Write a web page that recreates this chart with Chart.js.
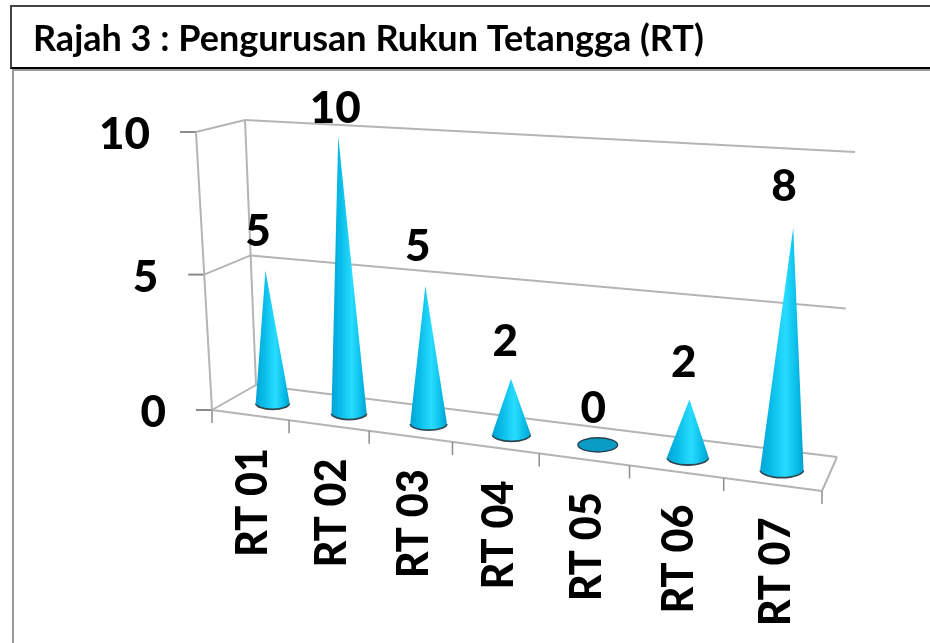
<!DOCTYPE html>
<html>
<head>
<meta charset="utf-8">
<script src="https://cdn.jsdelivr.net/npm/chart.js@4"></script>
<style>
  html, body { margin: 0; background: #fff; overflow: hidden; }
  #titleBox { position: absolute; left: 10px; top: 5px; width: 930px; height: 60px; border: 2px solid #444; border-bottom: 2px solid #000; }
  #panel { position: absolute; left: 12px; top: 69px; width: 930px; height: 600px; border: 2px solid #999; }
  #wrap { position: absolute; left: 0; top: 0; width: 930px; height: 643px; }
</style>
</head>
<body>
<div id="titleBox"></div>
<div id="panel"></div>
<div id="wrap"><canvas id="myChart" width="930" height="643"></canvas></div>
<script>
var categories = ['RT 01', 'RT 02', 'RT 03', 'RT 04', 'RT 05', 'RT 06', 'RT 07'];
var values = [5, 10, 5, 2, 0, 2, 8];
var titleText = 'Rajah 3 : Pengurusan Rukun Tetangga (RT)';

// corners of the sheared 3d box on screen: bottom left, bottom right, top right, top left
var conePlane = [[235.5, 397.5], [830.5, 475.3], [848, 167], [219, 129]];
var backWall = [[256, 385], [837, 457], [855, 152], [245, 120]];
var frontWall = [[212, 410], [822, 491], [841, 173], [196, 132]];

function homography(q) {
  var dx1 = q[1][0] - q[2][0], dx2 = q[3][0] - q[2][0], sx = q[0][0] - q[1][0] + q[2][0] - q[3][0];
  var dy1 = q[1][1] - q[2][1], dy2 = q[3][1] - q[2][1], sy = q[0][1] - q[1][1] + q[2][1] - q[3][1];
  var den = dx1 * dy2 - dx2 * dy1;
  var g = (sx * dy2 - dx2 * sy) / den, h = (dx1 * sy - sx * dy1) / den;
  var a = q[1][0] - q[0][0] + g * q[1][0], b = q[3][0] - q[0][0] + h * q[3][0];
  var d = q[1][1] - q[0][1] + g * q[1][1], e = q[3][1] - q[0][1] + h * q[3][1];
  return function (u, v) {
    var w = g * u + h * v + 1;
    return [(a * u + b * v + q[0][0]) / w, (d * u + e * v + q[0][1]) / w];
  };
}
var coneH = homography(conePlane), backH = homography(backWall), frontH = homography(frontWall);

function seg(ctx, p, q) {
  ctx.beginPath();
  ctx.moveTo(p[0], p[1]);
  ctx.lineTo(q[0], q[1]);
  ctx.stroke();
}

var box3d = {
  id: 'box3d',
  // grid and axes go under the cones
  beforeDatasetsDraw: function (chart) {
    var ctx = chart.ctx, a = chart.chartArea, ys = chart.scales.y;
    ctx.save();
    ctx.lineWidth = 2;
    ctx.strokeStyle = '#b4b4b4';
    ys.ticks.forEach(function (t) {
      var v = (a.bottom - ys.getPixelForValue(t.value)) / a.height;
      var f = frontH(0, v), b = backH(0, v), r = backH(1, v);
      seg(ctx, f, b);
      seg(ctx, b, r);
      ctx.strokeStyle = '#8c8c8c';
      seg(ctx, [f[0] - 16, f[1]], f);
      ctx.strokeStyle = '#b4b4b4';
    });
    seg(ctx, frontH(0, 0), frontH(0, 1));
    seg(ctx, backH(0, 0), backH(0, 1));
    seg(ctx, frontH(0, 0), frontH(1, 0));
    seg(ctx, frontH(1, 0), backH(1, 0));
    ctx.strokeStyle = '#8c8c8c';
    ctx.lineWidth = 1.5;
    for (var i = 0; i <= categories.length; i++) {
      var p = frontH(i / categories.length, 0);
      seg(ctx, p, [p[0], p[1] + 13]);
    }
    ctx.restore();
  },
  afterDatasetsDraw: function (chart) {
    var ctx = chart.ctx, a = chart.chartArea, ys = chart.scales.y;
    var meta = chart.getDatasetMeta(0);
    ctx.save();
    ctx.fillStyle = '#000';
    ctx.font = '900 44px Lato';
    ctx.textBaseline = 'middle';

    meta.data.forEach(function (bar, i) {
      var u = (bar.x - a.left) / a.width;
      var hw = bar.width / 2 / a.width;
      var v = (bar.base - bar.y) / a.height;
      var c = coneH(u, 0), tip = coneH(u, v);
      var l = coneH(u - hw, 0), r = coneH(u + hw, 0);
      var rx = (r[0] - l[0]) / 2, ry = rx * 0.36;
      if (values[i] === 0) {
        ctx.beginPath();
        ctx.ellipse(c[0], c[1], rx, ry, 0, 0, Math.PI * 2);
        ctx.fillStyle = '#0a9cc4';
        ctx.fill();
        ctx.lineWidth = 1.4;
        ctx.strokeStyle = '#24424f';
        ctx.stroke();
      } else {
        // dark rim peeking out below the cone
        ctx.beginPath();
        ctx.ellipse(c[0], c[1] + 1.2, rx + 0.8, ry + 0.6, 0, 0, Math.PI);
        ctx.fillStyle = '#2f4650';
        ctx.fill();
        var g = ctx.createLinearGradient(c[0] - rx, 0, c[0] + rx, 0);
        g.addColorStop(0, '#04a4d4');
        g.addColorStop(0.25, '#08bce8');
        g.addColorStop(0.58, '#28dcff');
        g.addColorStop(0.85, '#08bce8');
        g.addColorStop(1, '#03a0cc');
        ctx.beginPath();
        ctx.moveTo(tip[0], tip[1]);
        ctx.lineTo(c[0] + rx, c[1]);
        ctx.ellipse(c[0], c[1], rx, ry, 0, 0, Math.PI);
        ctx.closePath();
        ctx.fillStyle = g;
        ctx.fill();
      }
      // value label above the tip, the tallest one is held under the top of the picture
      var ly = tip[1] - 36 - 0.6 * values[i];
      var lx = ly < 109 ? tip[0] - 3 : tip[0] - 4.5 - 0.6 * values[i];
      ctx.fillStyle = '#000';
      ctx.textAlign = 'center';
      ctx.fillText(values[i], lx, Math.max(ly, 109));
    });

    // value axis labels
    ctx.textAlign = 'right';
    ys.ticks.forEach(function (t) {
      var v = (a.bottom - ys.getPixelForValue(t.value)) / a.height;
      var f = frontH(0, v);
      ctx.fillText(t.label, f[0] - 46, f[1] + 3);
    });

    // category labels, written bottom to top below the front edge
    ctx.textAlign = 'right';
    meta.data.forEach(function (bar, i) {
      var p = frontH((bar.x - a.left) / a.width, 0);
      ctx.save();
      ctx.translate(p[0] + 3, p[1] + 33);
      ctx.rotate(-Math.PI / 2);
      ctx.scale(0.94, 1);
      ctx.fillText(categories[i], 0, 0);
      ctx.restore();
    });
    ctx.restore();
  }
};

var ctx = document.getElementById('myChart').getContext('2d');
var myChart = new Chart(ctx, {
  type: 'bar',
  data: {
    labels: categories,
    datasets: [{
      label: 'RT',
      data: values,
      backgroundColor: 'rgba(0,0,0,0)',
      barPercentage: 0.45,
      categoryPercentage: 1
    }]
  },
  options: {
    responsive: false,
    animation: false,
    layout: { padding: { left: 33, top: 18 } },
    plugins: {
      legend: { display: false },
      tooltip: { enabled: false },
      title: {
        display: true,
        text: titleText,
        align: 'start',
        color: '#000',
        font: { family: 'Lato', size: 36, weight: 'bold' },
        padding: { top: 0, bottom: 10 }
      }
    },
    scales: {
      x: { display: false },
      y: { display: false, min: 0, max: 10, ticks: { stepSize: 5 } }
    }
  },
  plugins: [box3d]
});
</script>
</body>
</html>
